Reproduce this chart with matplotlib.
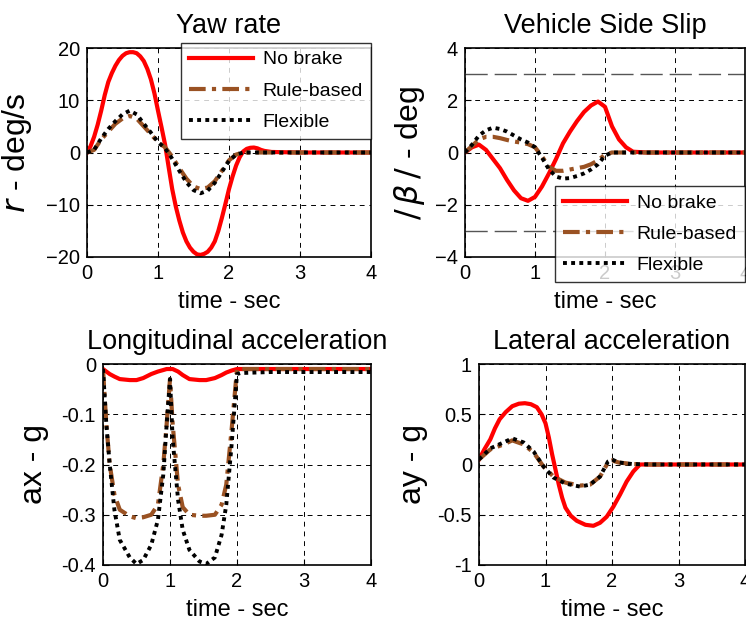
import matplotlib
matplotlib.use("Agg")
import matplotlib.pyplot as plt

plt.rcParams['font.family'] = ['Liberation Sans', 'DejaVu Sans']

# ---- yaw rate (deg/s) ----
t_yaw_nb = [0, 0.05, 0.1, 0.15, 0.2, 0.25, 0.3, 0.35, 0.4, 0.45, 0.5, 0.55, 0.6, 0.65, 0.7,
            0.75, 0.8, 0.85, 0.9, 0.95, 1.0, 1.05, 1.1, 1.15, 1.2, 1.25, 1.3, 1.35, 1.4,
            1.45, 1.5, 1.55, 1.6, 1.65, 1.7, 1.75, 1.8, 1.85, 1.9, 1.95, 2.0, 2.05, 2.1,
            2.15, 2.2, 2.25, 2.3, 2.35, 2.4, 2.45, 2.5, 2.6, 3.0, 3.5, 4.0]
yaw_nobrake = [0, 1.2, 3, 5.3, 8, 11, 13.5, 15.2, 16.6, 17.7, 18.5, 19, 19.2, 19.2, 19,
               18.4, 17.5, 16, 14, 11.3, 8, 4.8, 1.5, -2.8, -7, -10.3, -13, -15.3, -17,
               -18.2, -19, -19.5, -19.6, -19.4, -19, -18.2, -17, -15, -12.5, -9.8, -7, -4.6,
               -2.5, -0.9, 0.2, 0.7, 0.9, 0.95, 0.8, 0.5, 0.3, 0.1, 0, 0, 0]
t_yaw = [0, 0.1, 0.2, 0.3, 0.4, 0.5, 0.6, 0.7, 0.8, 0.9, 1.0, 1.1, 1.2, 1.3, 1.4, 1.5,
         1.6, 1.7, 1.8, 1.9, 2.0, 2.1, 2.2, 2.3, 2.4, 2.5, 2.6, 3.0, 3.5, 4.0]
yaw_rule = [0, 0.5, 2.5, 4, 5.5, 6.5, 7, 6.5, 5, 3.5, 2, 1, -0.8, -3, -5, -6.5,
            -7, -6.7, -5.5, -3.5, -1.5, -0.4, 0, 0, 0, 0, 0, 0, 0, 0]
yaw_flex = [0, 0.5, 2.7, 4.5, 6, 7.3, 8, 7.3, 5.5, 3.8, 2, 0.8, -1.2, -3.5, -5.7, -7.2,
            -7.8, -7.3, -5.8, -3.7, -1.6, -0.4, 0, 0, 0, 0, 0, 0, 0, 0]

# ---- side slip (deg) ----
t_slip = [0, 0.1, 0.2, 0.3, 0.4, 0.5, 0.6, 0.7, 0.8, 0.9, 1.0, 1.1, 1.2, 1.3, 1.4, 1.5,
          1.6, 1.7, 1.8, 1.9, 2.0, 2.1, 2.2, 2.3, 2.4, 2.6, 3.0, 3.5, 4.0]
slip_nobrake = [0, 0.2, 0.3, 0.1, -0.25, -0.6, -1.05, -1.45, -1.75, -1.85, -1.7, -1.3, -0.8,
                -0.25, 0.35, 0.8, 1.2, 1.55, 1.8, 1.95, 1.75, 1.0, 0.5, 0.2, 0.03, 0, 0, 0, 0]
slip_rule = [0, 0.25, 0.5, 0.6, 0.6, 0.55, 0.48, 0.42, 0.38, 0.32, 0.2, -0.15, -0.55, -0.7,
             -0.7, -0.65, -0.6, -0.55, -0.45, -0.3, -0.08, 0, 0, 0, 0, 0, 0, 0, 0]
slip_flex = [0, 0.3, 0.65, 0.85, 0.95, 0.9, 0.8, 0.65, 0.5, 0.38, 0.2, -0.2, -0.65, -0.92,
             -1.0, -0.98, -0.9, -0.8, -0.65, -0.45, -0.12, 0, 0, 0, 0, 0, 0, 0, 0]
slip_limit = 3.0

# ---- longitudinal acceleration (g) ----
t_ax = [0, 0.05, 0.1, 0.17, 0.25, 0.4, 0.5, 0.6, 0.72, 0.82, 0.9, 0.95, 1.0, 1.04, 1.12,
        1.19, 1.29, 1.44, 1.54, 1.67, 1.77, 1.84, 1.92, 2.0, 2.05, 2.5, 3.0, 3.5, 4.0]
ax_nobrake = [-0.01, -0.015, -0.02, -0.025, -0.03, -0.032, -0.032, -0.028, -0.02, -0.015,
              -0.012, -0.01, -0.01, -0.01, -0.015, -0.022, -0.03, -0.032, -0.032, -0.028,
              -0.022, -0.017, -0.013, -0.01, -0.01, -0.01, -0.01, -0.01, -0.01]
ax_rule = [-0.01, -0.12, -0.2, -0.26, -0.29, -0.303, -0.307, -0.305, -0.3, -0.28, -0.2,
           -0.12, -0.03, -0.12, -0.24, -0.285, -0.3, -0.302, -0.302, -0.3, -0.28, -0.24,
           -0.13, -0.01, -0.01, -0.01, -0.01, -0.01, -0.01]
ax_flex = [-0.01, -0.12, -0.2, -0.29, -0.35, -0.385, -0.398, -0.39, -0.36, -0.31, -0.22,
           -0.12, -0.03, -0.15, -0.27, -0.33, -0.37, -0.393, -0.398, -0.385, -0.34, -0.28,
           -0.16, -0.02, -0.018, -0.016, -0.016, -0.016, -0.016]

# ---- lateral acceleration (g) ----
t_ay = [0, 0.08, 0.17, 0.24, 0.31, 0.4, 0.5, 0.6, 0.69, 0.78, 0.87, 0.94, 1.0, 1.05, 1.1,
        1.15, 1.2, 1.25, 1.3, 1.38, 1.47, 1.6, 1.72, 1.82, 1.92, 2.02, 2.12, 2.22, 2.32,
        2.42, 2.6, 3.0, 3.5, 4.0]
ay_nobrake = [0.05, 0.15, 0.25, 0.36, 0.45, 0.52, 0.58, 0.605, 0.61, 0.6, 0.57, 0.5, 0.41,
              0.27, 0.1, -0.05, -0.2, -0.33, -0.43, -0.51, -0.56, -0.6, -0.61, -0.58,
              -0.52, -0.42, -0.3, -0.17, -0.07, 0, 0, 0, 0, 0]
t_ay2 = [0, 0.17, 0.37, 0.5, 0.67, 0.82, 0.97, 1.12, 1.3, 1.52, 1.67, 1.82, 1.94, 2.0, 2.1,
         2.3, 2.6, 3.0, 3.5, 4.0]
ay_rule = [0.05, 0.15, 0.2, 0.24, 0.2, 0.12, -0.02, -0.12, -0.18, -0.21, -0.2, -0.12, 0.02,
           0.04, 0.02, 0.005, 0, 0, 0, 0]
ay_flex = [0.05, 0.16, 0.22, 0.26, 0.22, 0.13, -0.02, -0.13, -0.19, -0.22, -0.2, -0.12, 0.03,
           0.05, 0.02, 0.005, 0, 0, 0, 0]

labels = ["No brake", "Rule-based", "Flexible"]

RED = "#ff0000"
BROWN = "#9a5223"

fig = plt.figure(figsize=(7.46, 6.25), dpi=100)
W, H = 746.0, 625.0


def make_ax(x0, y0, x1, y1):
    # pixel box -> figure fraction
    return fig.add_axes([x0 / W, 1 - y1 / H, (x1 - x0) / W, (y1 - y0) / H])


def style(ax, title, ylabel, ylim, yticks, ypad):
    ax.set_xlim(0, 4)
    ax.set_ylim(*ylim)
    ax.set_xticks([0, 1, 2, 3, 4])
    ax.set_yticks(yticks)
    ax.grid(True, color="black", linestyle=(0, (5, 5)), linewidth=0.7)
    ax.tick_params(direction="in", length=4, width=0.8, labelsize=14.5, pad=5)
    for s in ax.spines.values():
        s.set_linewidth(1.2)
    ax.set_title(title, fontsize=19.5, pad=11)
    ax.set_xlabel("time - sec", fontsize=17, labelpad=6)
    ax.set_ylabel(ylabel, fontsize=23, labelpad=ypad)


def draw(ax, t1, a, t2, b, t3, c):
    l1, = ax.plot(t1, a, color=RED, lw=3, solid_joinstyle="round")
    l2, = ax.plot(t2, b, color=BROWN, lw=3, linestyle=(0, (4, 1.5, 1, 1.5)))
    l3, = ax.plot(t3, c, color="black", lw=2.8, linestyle=(0, (1, 1.1)))
    return [l1, l2, l3]


leg_kw = dict(frameon=True, fancybox=False, edgecolor="black", fontsize=14,
              handlelength=3.3, borderpad=0.4, labelspacing=0.7, handletextpad=0.5,
              borderaxespad=0.0)

# yaw rate
ax1 = make_ax(87, 48, 371, 257)
hs = draw(ax1, t_yaw_nb, yaw_nobrake, t_yaw, yaw_rule, t_yaw, yaw_flex)
style(ax1, "Yaw rate", r"$r$ - deg/s", (-20, 20), [-20, -10, 0, 10, 20], 9)
lg = ax1.legend(hs, labels, loc="upper right", bbox_to_anchor=(1.0, 1.024), **leg_kw)
lg.get_frame().set_linewidth(1.0)

# side slip
ax2 = make_ax(465, 48, 745, 257)
for lim in (slip_limit, -slip_limit):
    ax2.axhline(lim, color="#555555", lw=1.0, linestyle=(0, (16, 5)))
hs = draw(ax2, t_slip, slip_nobrake, t_slip, slip_rule, t_slip, slip_flex)
style(ax2, "Vehicle Side Slip", r"$/\,\beta\,/$ - deg", (-4, 4), [-4, -2, 0, 2, 4], 6)
lg = ax2.legend(hs, labels, loc="lower right", bbox_to_anchor=(1.0, -0.12), **leg_kw)
lg.get_frame().set_linewidth(1.0)

# longitudinal acceleration
ax3 = make_ax(103, 364, 371, 565)
draw(ax3, t_ax, ax_nobrake, t_ax, ax_rule, t_ax, ax_flex)
style(ax3, "Longitudinal acceleration", "ax - g", (-0.4, 0), [-0.4, -0.3, -0.2, -0.1, 0], 9)
ax3.set_yticklabels(["-0.4", "-0.3", "-0.2", "-0.1", "0"])

# lateral acceleration
ax4 = make_ax(479, 364, 745, 565)
draw(ax4, t_ay, ay_nobrake, t_ay2, ay_rule, t_ay2, ay_flex)
style(ax4, "Lateral acceleration", "ay - g", (-1, 1), [-1, -0.5, 0, 0.5, 1], 7)
ax4.set_yticklabels(["-1", "-0.5", "0", "0.5", "1"])

fig.savefig("out.png", dpi=100)
